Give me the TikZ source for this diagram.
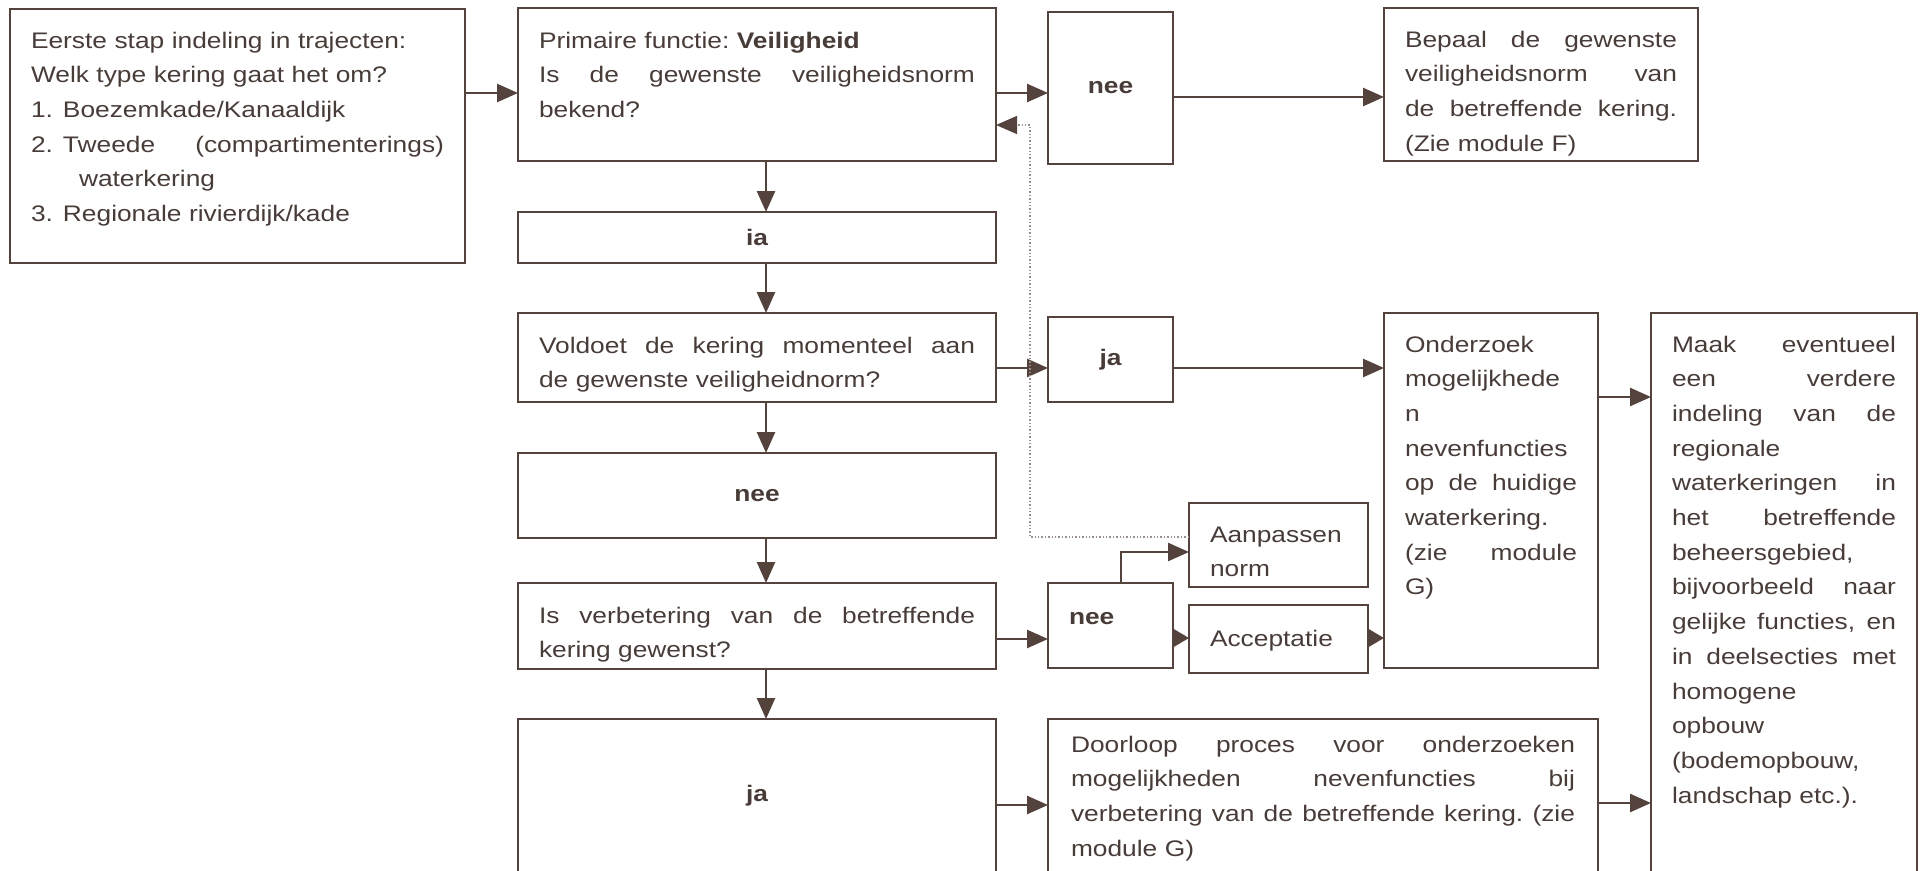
\documentclass[tikz,border=0pt]{standalone}
\usepackage{fontspec}
\setmainfont{Liberation Sans}[FakeStretch=1.17]
\usetikzlibrary{arrows.meta}
\definecolor{lijn}{RGB}{84,66,60}
\definecolor{tekst}{RGB}{72,60,56}
\newcommand{\uitvul}[1]{\leavevmode\hbox to\hsize{\spaceskip=.3em plus 1fil\xspaceskip=.3em plus 1fil\relax #1}}
\begin{document}
  \begin{tikzpicture}[x=1pt,y=-1pt,
      stap/.style={draw=lijn,line width=2.4pt,outer sep=0pt,anchor=north west,inner xsep=21pt,inner ysep=0pt,align=left,text=tekst,font=\fontsize{22.5}{34.7}\selectfont},
      keuze/.style={draw=lijn,line width=2.4pt,outer sep=0pt,anchor=north west,inner sep=0pt,text=tekst,font=\fontsize{22.5}{30}\selectfont\bfseries},
      pijl/.style={draw=lijn,line width=2.6pt,-{Triangle[length=21pt,width=18pt]}},
      kort/.style={draw=lijn,line width=2.6pt,-{Triangle[length=15pt,width=17pt]}},
      terug/.style={draw=lijn!60,line width=1.4pt,dotted,-{Triangle[length=21pt,width=18pt,color=lijn]}}]
    \useasboundingbox (0,0) rectangle (1922,870);
    \clip (0,0) rectangle (1922,870);
    \node[stap,text width=413pt,text height=39pt,text depth=215pt] (a) at (10,9)
      {Eerste stap indeling in trajecten:\\
       Welk type kering gaat het om?\\
       \makebox[32pt][l]{1.}Boezemkade/Kanaaldijk\\
       \uitvul{\makebox[32pt][l]{2.}Tweede (compartimenterings)}\\
       \hspace*{48pt}waterkering\\
       \makebox[32pt][l]{3.}Regionale rivierdijk/kade};
    \node[stap,text width=436pt,text height=40pt,text depth=113pt] (b) at (518,8)
      {Primaire functie:\ \textbf{Veiligheid}\\
       \uitvul{Is de gewenste veiligheidsnorm}\\
       bekend?};
    \node[keuze,minimum width=125pt,minimum height=152pt] (c) at (1048,12) {nee};
    \node[stap,text width=272pt,text height=39pt,text depth=114pt] (d) at (1384,8)
      {\uitvul{Bepaal de gewenste}\\
       \uitvul{veiligheidsnorm van}\\
       \uitvul{de betreffende kering.}\\
       (Zie module F)};
    \node[keuze,minimum width=478pt,minimum height=51pt] (e) at (518,212) {ia};
    \node[stap,text width=436pt,text height=40pt,text depth=49pt] (f) at (518,313)
      {\uitvul{Voldoet de kering momenteel aan}\\
       de gewenste veiligheidnorm?};
    \node[keuze,minimum width=125pt,minimum height=85pt] (g) at (1048,317) {ja};
    \node[stap,text width=172pt,text height=39pt,text depth=316pt] (h) at (1384,313)
      {Onderzoek\\
       mogelijkhede\\
       n\\
       nevenfuncties\\
       \uitvul{op de huidige}\\
       waterkering.\\
       \uitvul{(zie module}\\
       G)};
    \node[stap,text width=224pt,text height=39pt,text depth=520pt] (i) at (1651,313)
      {\uitvul{Maak eventueel}\\
       \uitvul{een verdere}\\
       \uitvul{indeling van de}\\
       regionale\\
       \uitvul{waterkeringen in}\\
       \uitvul{het betreffende}\\
       beheersgebied,\\
       \uitvul{bijvoorbeeld naar}\\
       \uitvul{gelijke functies, en}\\
       \uitvul{in deelsecties met}\\
       homogene\\
       opbouw\\
       (bodemopbouw,\\
       landschap etc.).};
    \node[keuze,minimum width=478pt,minimum height=85pt] (j) at (518,453) {nee};
    \node[stap,text width=436pt,text height=40pt,text depth=46pt] (k) at (518,583)
      {\uitvul{Is verbetering van de betreffende}\\
       kering gewenst?};
    \node[stap,font=\fontsize{22.5}{30}\selectfont\bfseries,text width=83pt,text height=41pt,text depth=44pt] (l) at (1048,583) {nee};
    \node[stap,text width=137pt,text height=39pt,text depth=45pt] (m) at (1189,503)
      {Aanpassen\\
       norm};
    \node[stap,text width=137pt,text height=41pt,text depth=27pt] (n) at (1189,605) {Acceptatie};
    \node[keuze,minimum width=478pt,minimum height=153pt] (o) at (518,719) {ja};
    \node[stap,inner xsep=23pt,text width=504pt,text height=33pt,text depth=120pt] (p) at (1048,719)
      {\uitvul{Doorloop proces voor onderzoeken}\\
       \uitvul{mogelijkheden nevenfuncties bij}\\
       \uitvul{verbetering van de betreffende kering. (zie}\\
       module G)};
    \draw[pijl] (a.east |- 0,93) -- (b.west |- 0,93);
    \draw[pijl] (b.east |- 0,93) -- (c.west |- 0,93);
    \draw[pijl] (c.east |- 0,97) -- (d.west |- 0,97);
    \draw[pijl] (b.south -| 766,0) -- (e.north -| 766,0);
    \draw[pijl] (e.south -| 766,0) -- (f.north -| 766,0);
    \draw[pijl] (f.east |- 0,368) -- (g.west |- 0,368);
    \draw[pijl] (g.east |- 0,368) -- (h.west |- 0,368);
    \draw[pijl] (h.east |- 0,397) -- (i.west |- 0,397);
    \draw[pijl] (f.south -| 766,0) -- (j.north -| 766,0);
    \draw[pijl] (j.south -| 766,0) -- (k.north -| 766,0);
    \draw[pijl] (k.east |- 0,639) -- (l.west |- 0,639);
    \draw[pijl] (l.north -| 1121,0) |- (m.west |- 0,552);
    \draw[kort] (l.east |- 0,638) -- (n.west |- 0,638);
    \draw[kort] (n.east |- 0,638) -- (h.west |- 0,638);
    \draw[terug] (m.west |- 0,537) -| (1030,125) -- (b.east |- 0,125);
    \draw[pijl] (k.south -| 766,0) -- (o.north -| 766,0);
    \draw[pijl] (o.east |- 0,805) -- (p.west |- 0,805);
    \draw[pijl] (p.east |- 0,803) -- (i.west |- 0,803);
  \end{tikzpicture}
\end{document}
